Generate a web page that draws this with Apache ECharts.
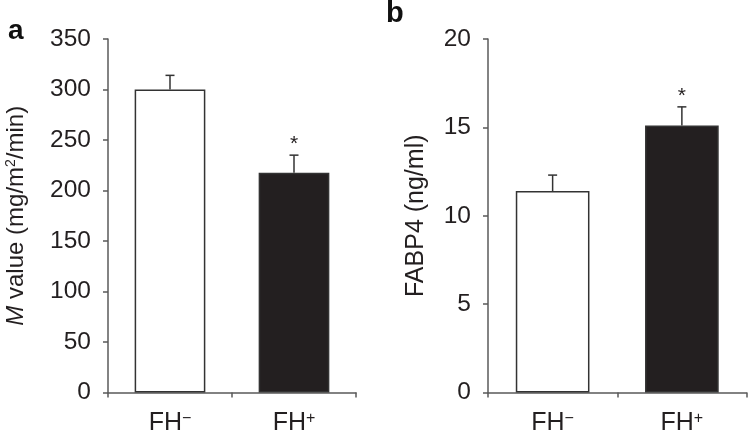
<!DOCTYPE html>
<html><head><meta charset="utf-8">
<script src="https://cdn.jsdelivr.net/npm/echarts@6/dist/echarts.min.js"></script>
<style>html,body{margin:0;padding:0;background:#fff}#c{width:750px;height:433px}</style>
</head><body><div id="c"></div>
<script>
const categories = ['FH-', 'FH+'];
const mValue = [300, 217.5];
const mValueErr = [14, 17.5];
const fabp4 = [11.4, 15.1];
const fabp4Err = [0.9, 1.06];
const significant = [false, true];
const yTicksA = {min: 0, max: 350, interval: 50};
const yTicksB = {min: 0, max: 20, interval: 5};

const FONT = 'Liberation Sans';
const TXT = '#231f20';
const AX = '#5a5a5a';
const barColors = ['#ffffff', '#231f20'];

const chart = echarts.init(document.getElementById('c'), null, {renderer: 'canvas'});

function catFmt(v) {
  const base = v.slice(0, 2);
  const s = v.slice(2) === '-' ? '\u2212' : '+';
  return base + '{sup|' + s + '}';
}

function xAxis(gi) {
  return {
    type: 'category', gridIndex: gi, data: categories, boundaryGap: true,
    axisLine: {lineStyle: {color: AX, width: 1.5}},
    axisTick: {show: true, length: 5, interval: 0, lineStyle: {color: AX, width: 1.5}},
    axisLabel: {
      interval: 0, margin: 18, formatter: catFmt, color: TXT, fontFamily: FONT, fontSize: 25,
      rich: {sup: {fontSize: 16, verticalAlign: 'top', color: TXT, fontFamily: FONT, padding: [0, 0, 7, 0]}}
    }
  };
}
function yAxis(gi, t, name, gap, nfs) {
  return {
    type: 'value', gridIndex: gi, min: t.min, max: t.max, interval: t.interval,
    splitLine: {show: false},
    axisLine: {show: true, lineStyle: {color: AX, width: 1.5}},
    axisTick: {show: true, length: 5, lineStyle: {color: AX, width: 1.5}},
    axisLabel: {margin: 17, color: TXT, fontFamily: FONT, fontSize: 24.5},
    name: name, nameLocation: 'middle', nameGap: gap, nameRotate: 90,
    nameTextStyle: {
      color: TXT, fontFamily: FONT, fontSize: nfs,
      rich: {
        i: {fontStyle: 'italic', fontSize: nfs, color: TXT, fontFamily: FONT},
        sup: {fontSize: 14, verticalAlign: 'top', color: TXT, fontFamily: FONT, padding: [0, 0, 8, 0]}
      }
    }
  };
}

function barSeries(gi, vals) {
  return {
    type: 'bar', xAxisIndex: gi, yAxisIndex: gi, barWidth: '57%',
    data: vals.map((v, i) => ({value: v, itemStyle: {color: barColors[i], borderColor: '#333', borderWidth: 1.5}})),
    z: 2
  };
}
function errSeries(gi, vals, errs) {
  return {
    type: 'custom', xAxisIndex: gi, yAxisIndex: gi, z: 3,
    data: vals.map((v, i) => [i, v, errs[i], significant[i] ? 1 : 0]),
    renderItem: function (params, api) {
      const i = api.value(0), v = api.value(1), e = api.value(2), s = api.value(3);
      const p0 = api.coord([i, v]);
      const p1 = api.coord([i, v + e]);
      const cap = 4.5;
      const ls = {stroke: '#333', lineWidth: 1.5};
      const children = [
        {type: 'line', shape: {x1: p0[0], y1: p0[1], x2: p1[0], y2: p1[1]}, style: ls},
        {type: 'line', shape: {x1: p1[0] - cap, y1: p1[1], x2: p1[0] + cap, y2: p1[1]}, style: ls}
      ];
      if (s) {
        children.push({type: 'text', style: {text: '*', x: p1[0], y: p1[1] - 0.5, textAlign: 'center', textVerticalAlign: 'bottom', fontSize: 21, fontFamily: FONT, fill: TXT}});
      }
      return {type: 'group', children: children};
    }
  };
}

chart.setOption({
  animation: false,
  backgroundColor: '#ffffff',
  grid: [
    {left: 108, right: 394, top: 39, bottom: 40.5, outerBoundsMode: 'none', containLabel: false},
    {left: 488, right: 3.5, top: 39, bottom: 40.5, outerBoundsMode: 'none', containLabel: false}
  ],
  xAxis: [xAxis(0), xAxis(1)],
  yAxis: [
    yAxis(0, yTicksA, '{i|M} value (mg/m{sup|2}/min)', 80, 24),
    yAxis(1, yTicksB, 'FABP4 (ng/ml)', 59, 25)
  ],
  graphic: [
    {type: 'text', left: 8, top: 17, style: {text: 'a', fontSize: 28, fontWeight: 'bold', fontFamily: FONT, fill: '#111'}},
    {type: 'text', left: 386, top: -1, style: {text: 'b', fontSize: 29, fontWeight: 'bold', fontFamily: FONT, fill: '#111'}}
  ],
  series: [
    barSeries(0, mValue), errSeries(0, mValue, mValueErr),
    barSeries(1, fabp4), errSeries(1, fabp4, fabp4Err)
  ]
});
</script></body></html>
